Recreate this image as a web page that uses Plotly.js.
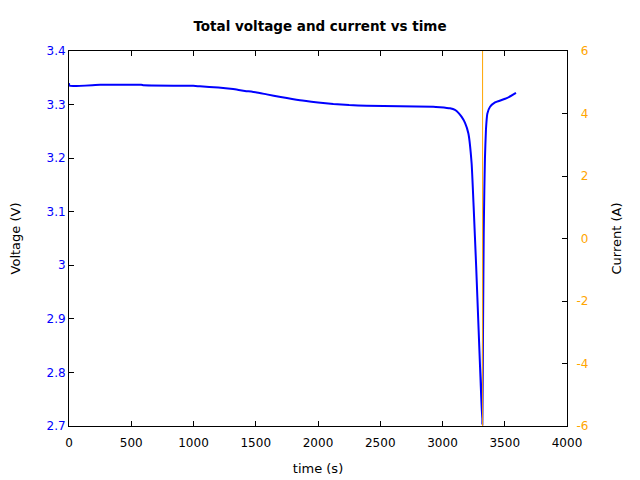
<!DOCTYPE html>
<html>
<head>
<meta charset="utf-8">
<script src="https://cdn.plot.ly/plotly-3.0.1.min.js"></script>
<style>html,body{margin:0;padding:0;background:#fff;}#chart{width:640px;height:480px;}</style>
</head>
<body>
<div id="chart"></div>
<script>
// Voltage vs time (s)
const timeV = [0, 5, 250, 463, 580, 600, 998, 1052, 1200, 1318, 1400, 1500, 1588, 1700, 1855, 2000, 2123, 2250, 2391, 2659, 2926, 2980, 3060, 3100, 3130, 3154, 3181, 3208, 3234, 3250, 3270, 3290, 3305, 3320, 3326, 3331, 3336, 3341, 3349, 3360, 3382, 3422, 3516, 3590];
const voltage = [3.340, 3.335, 3.337, 3.337, 3.337, 3.336, 3.335, 3.334, 3.332, 3.329, 3.326, 3.323, 3.319, 3.314, 3.308, 3.304, 3.301, 3.299, 3.298, 3.297, 3.296, 3.295, 3.293, 3.290, 3.284, 3.277, 3.266, 3.246, 3.190, 3.110, 3.000, 2.880, 2.790, 2.703, 2.900, 3.060, 3.140, 3.200, 3.253, 3.283, 3.296, 3.304, 3.312, 3.322];
// Current vs time (s) (mostly outside the displayed range)
const timeI = [0, 3322, 3322, 3590];
const current = [-20, -20, 20, 20];
// Right-axis tick labels
const currentTickVals = [-6, -4, -2, 0, 2, 4, 6];
const currentTickText = ['-6', '-4', '-2', '0', '2', '4', '6'];

const pad = '<span style="color:rgba(0,0,0,0)">-</span>';
const rightText = currentTickText.map(t => t.startsWith('-') ? t : pad + t);

const fam = 'DejaVu Sans, sans-serif';

const traces = [
  {x: timeV, y: voltage, type: 'scatter', mode: 'lines', name: 'Voltage',
   line: {color: '#0000ff', width: 2, shape: 'spline', smoothing: 0.4}, xaxis: 'x', yaxis: 'y'},
  {x: timeI, y: current, type: 'scatter', mode: 'lines', name: 'Current',
   line: {color: '#ffa500', width: 1}, xaxis: 'x2', yaxis: 'y2'}
];

const layout = {
  width: 640, height: 480,
  margin: {l: 69, r: 73, t: 51, b: 54},
  paper_bgcolor: '#fff', plot_bgcolor: '#fff',
  font: {family: fam, size: 12, color: '#000'},
  showlegend: false,
  title: {text: '<b>Total voltage and current vs time</b>', x: 0.5, xanchor: 'center', y: 0.945, yanchor: 'middle',
          font: {family: fam, size: 13.5, color: '#000'}},
  xaxis: {
    range: [0, 4000], dtick: 500, tick0: 0,
    showgrid: false, zeroline: false,
    showline: true, linecolor: '#000', linewidth: 1, mirror: false,
    ticks: 'inside', ticklen: 5, tickcolor: '#000', ticklabelstandoff: 6,
    tickfont: {family: fam, size: 12, color: '#000'},
    title: {text: 'time (s)', font: {family: fam, size: 13, color: '#000'}, standoff: 14}
  },
  xaxis2: {
    overlaying: 'x', side: 'top', anchor: 'y2', matches: 'x',
    range: [0, 4000], dtick: 500, tick0: 0,
    showgrid: false, zeroline: false, showticklabels: false,
    showline: true, linecolor: '#000', linewidth: 1,
    ticks: 'inside', ticklen: 5, tickcolor: '#000'
  },
  yaxis: {
    range: [2.7, 3.4], dtick: 0.1, tick0: 2.7,
    showgrid: false, zeroline: false,
    showline: true, linecolor: '#000', linewidth: 1,
    ticks: 'inside', ticklen: 5, tickcolor: '#000',
    tickfont: {family: fam, size: 12, color: '#0000ff'},
    title: {text: 'Voltage (V)', font: {family: fam, size: 13, color: '#000'}, standoff: 22}
  },
  yaxis2: {
    overlaying: 'y', side: 'right', anchor: 'x',
    range: [-6, 6], tickvals: currentTickVals, ticktext: rightText,
    showgrid: false, zeroline: false,
    showline: true, linecolor: '#000', linewidth: 1,
    ticks: 'inside', ticklen: 5, tickcolor: '#000', ticklabelstandoff: 6,
    tickfont: {family: fam, size: 12, color: '#ffa500'},
    title: {text: 'Current (A)', font: {family: fam, size: 13, color: '#000'}, standoff: 24}
  }
};

Plotly.newPlot('chart', traces, layout, {staticPlot: true, displayModeBar: false});
</script>
</body>
</html>
